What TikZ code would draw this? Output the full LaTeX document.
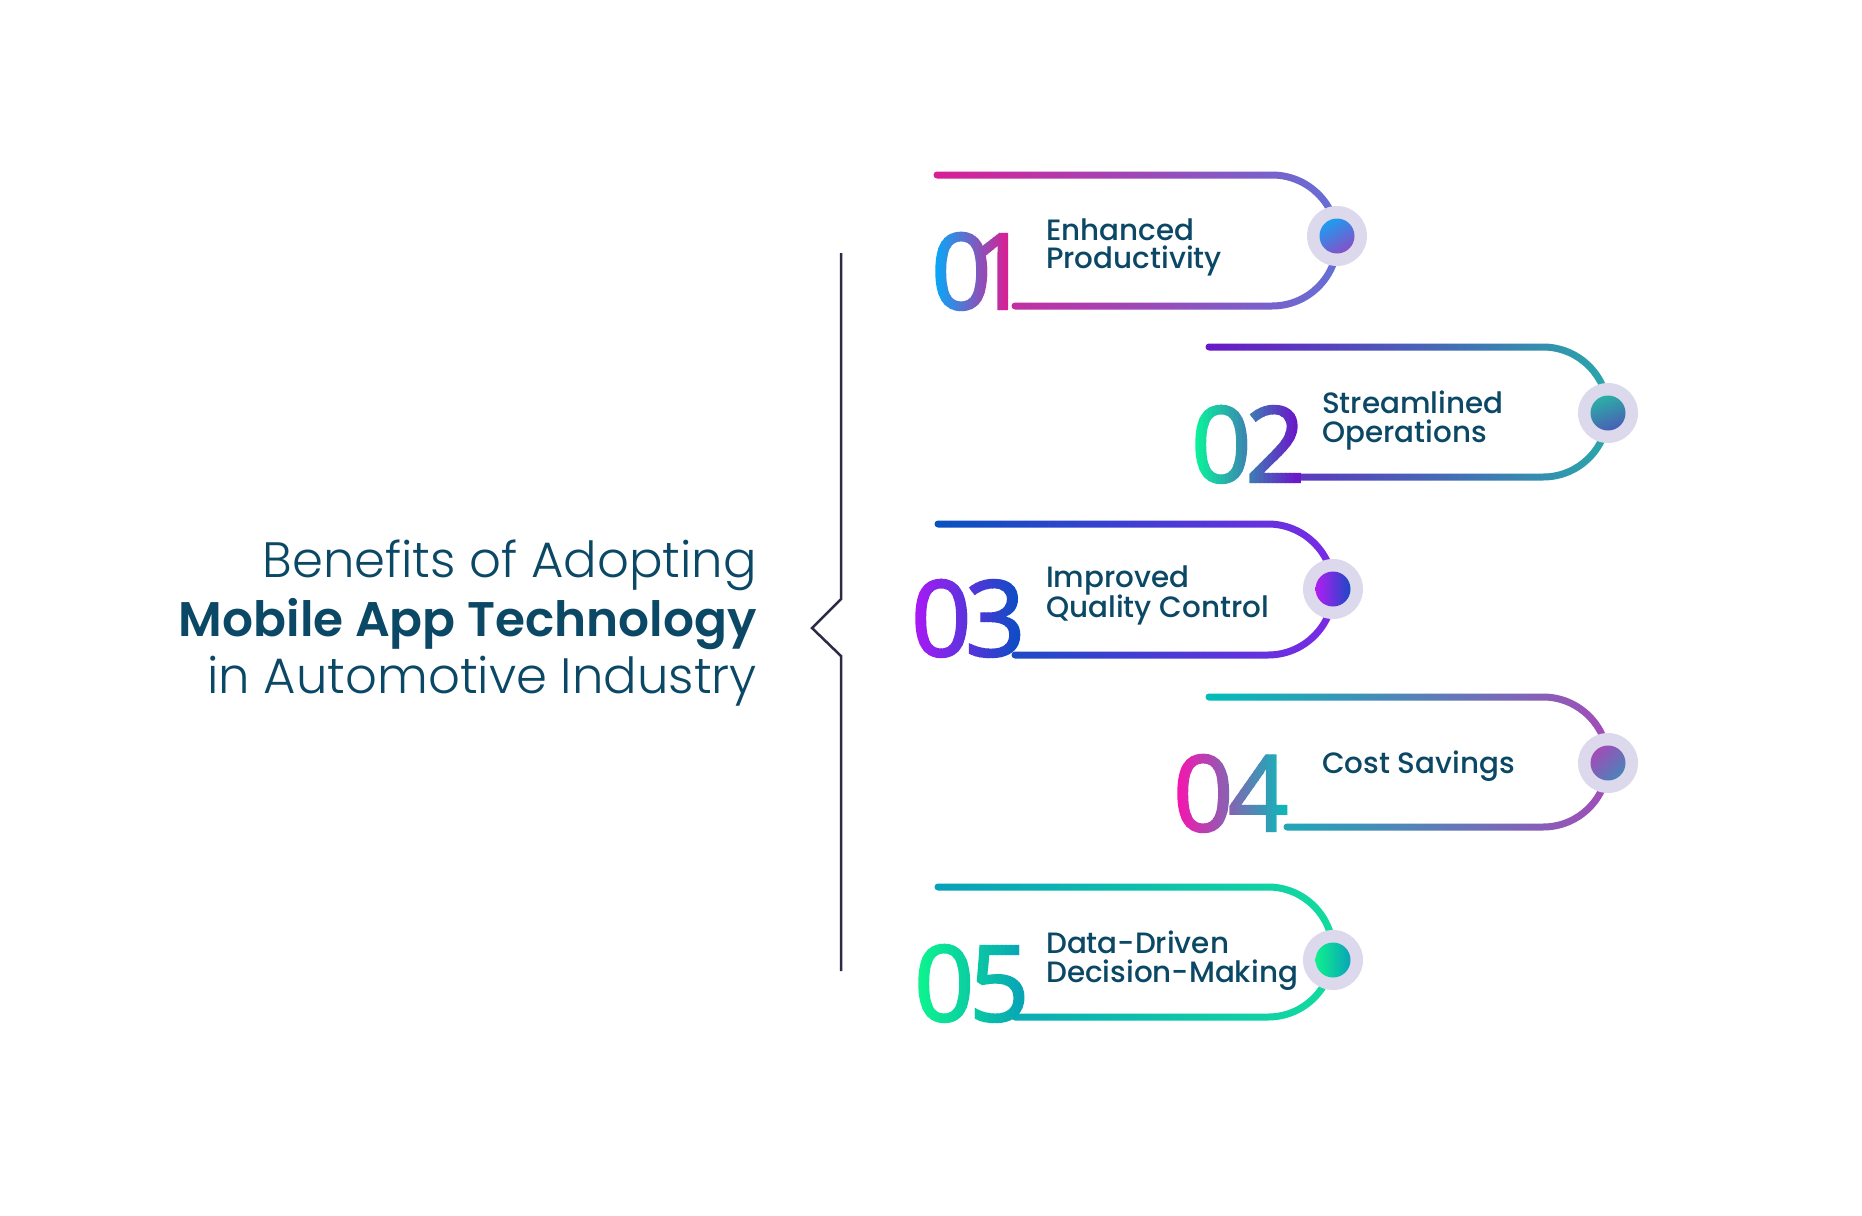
\documentclass[tikz,border=0pt]{standalone}
\usepackage{fontspec}
\setmainfont{Poppins}
\newfontfamily\titlelight{Poppins Light}
\newfontfamily\titlebold{Poppins SemiBold}
\newfontfamily\labelfont{Poppins Medium}
\newfontfamily\numberfont{Open Sans}[FakeBold=2.2]
\definecolor{navy}{HTML}{0B4866}
\definecolor{axis}{HTML}{2B2B45}
\definecolor{ring}{HTML}{DCD9ED}
\tikzset{
  titletext/.style={inner sep=0pt, text=navy, font=\titlelight\fontsize{49.7}{50}\selectfont},
  titlestrong/.style={inner sep=0pt, text=navy, font=\titlebold\fontsize{48.6}{49}\selectfont},
  labeltext/.style={inner sep=0pt, text=navy, font=\labelfont\fontsize{29.4}{30}\selectfont, anchor=base west},
  numtext/.style={inner sep=0pt, font=\numberfont\fontsize{105}{105}\selectfont, anchor=base west},
  axisline/.style={draw=axis, line width=2.5pt},
}
% gradient-filled tag stroke: #1 x1 (top-left), #2 x2 (bottom-left), #3 xc, #4 yt, #5 yb, #6 colA, #7 colB (HTML)
\newcommand\tagstroke[7]{%
  \definecolor{tsA}{HTML}{#6}\definecolor{tsB}{HTML}{#7}%
  \pgfmathsetmacro\tsH{3.5}%
  \pgfmathsetmacro\tsK{0.5523}%
  \pgfmathsetmacro\tsCy{(#4+#5)/2}%
  \pgfmathsetmacro\tsRo{(#5-#4)/2+\tsH}%
  \pgfmathsetmacro\tsRi{(#5-#4)/2-\tsH}%
  \shade[left color=tsA, right color=tsB]
    ({#1},{#4-\tsH}) -- ({#3},{#4-\tsH})
    .. controls ({#3+\tsK*\tsRo},{#4-\tsH}) and ({#3+\tsRo},{\tsCy-\tsK*\tsRo}) .. ({#3+\tsRo},{\tsCy})
    .. controls ({#3+\tsRo},{\tsCy+\tsK*\tsRo}) and ({#3+\tsK*\tsRo},{#5+\tsH}) .. ({#3},{#5+\tsH})
    -- ({#2},{#5+\tsH})
    .. controls ({#2-\tsK*\tsH},{#5+\tsH}) and ({#2-\tsH},{#5+\tsK*\tsH}) .. ({#2-\tsH},{#5})
    .. controls ({#2-\tsH},{#5-\tsK*\tsH}) and ({#2-\tsK*\tsH},{#5-\tsH}) .. ({#2},{#5-\tsH})
    -- ({#3},{#5-\tsH})
    .. controls ({#3+\tsK*\tsRi},{#5-\tsH}) and ({#3+\tsRi},{\tsCy+\tsK*\tsRi}) .. ({#3+\tsRi},{\tsCy})
    .. controls ({#3+\tsRi},{\tsCy-\tsK*\tsRi}) and ({#3+\tsK*\tsRi},{#4+\tsH}) .. ({#3},{#4+\tsH})
    -- ({#1},{#4+\tsH})
    .. controls ({#1-\tsK*\tsH},{#4+\tsH}) and ({#1-\tsH},{#4+\tsK*\tsH}) .. ({#1-\tsH},{#4})
    .. controls ({#1-\tsH},{#4-\tsK*\tsH}) and ({#1-\tsK*\tsH},{#4-\tsH}) .. ({#1},{#4-\tsH})
    -- cycle;
}
% dot: #1 name, #2 x, #3 y, #4 colA, #5 colB (HTML), #6 shading angle
\newcommand\tagdot[6]{%
  \definecolor{tdA}{HTML}{#4}\definecolor{tdB}{HTML}{#5}%
  \fill[ring] (#2,#3) circle[radius=30];
  \shade[top color=tdA, bottom color=tdB, shading angle=#6] (#2,#3) circle[radius=17.5];
  \coordinate (#1) at (#2,#3);
}
% gradient number: #1 name, #2 text, #3 base x, #4 baseline y, #5 ink left, #6 ink right, #7 colA, #8 colB (HTML)
\newcommand\gradnum[8]{%
  \definecolor{gnAc}{HTML}{#7}\definecolor{gnBc}{HTML}{#8}%
  \foreach \i in {0,...,23}{%
    \pgfmathsetmacro\gnA{\i==0 ? #5-40 : #5+(#6-#5)*\i/24}%
    \pgfmathsetmacro\gnB{\i==23 ? #6+40 : #5+(#6-#5)*(\i+1)/24+1}%
    \pgfmathsetmacro\gnP{100-(\i+0.5)*100/24}%
    \colorlet{gntmp}{gnAc!\gnP!gnBc}%
    \begin{scope}
      \clip ({\gnA},{#4-110}) rectangle ({\gnB},{#4+25});
      \node[numtext, text=gntmp] (#1-\i) at (#3,#4) {#2};
    \end{scope}
  }%
}
\begin{document}
\begin{tikzpicture}[x=1pt,y=-1pt]
\useasboundingbox (0,0) rectangle (1862,1215);
\fill[white] (0,0) rectangle (1862,1215);

% title
\node[titletext, anchor=base east] (t1) at (757,577) {Benefits of Adopting};
\node[titlestrong, anchor=base east] (t2) at (757,636) {Mobile App Technology};
\node[titletext, anchor=base east] (t3) at (757,693) {in Automotive Industry};

% axis with chevron
\coordinate (ax1) at (841,253);
\coordinate (ax2) at (841,599);
\coordinate (ax3) at (812,628);
\coordinate (ax4) at (841,656);
\coordinate (ax5) at (841,971);
\draw[axisline] (ax1) -- (ax2) -- (ax3) -- (ax4) -- (ax5);

% strokes
\tagstroke{937}{1015}{1272}{175}{306}{D81F96}{6470D6}
\tagstroke{1209}{1287}{1543}{347}{477}{6A16C6}{2AA8AA}
\tagstroke{938}{1015}{1268}{524}{655}{0752BE}{7B2AE6}
\tagstroke{1209}{1287}{1543}{697}{827}{00BDB8}{A44BB8}
\tagstroke{938}{1015}{1268}{887}{1017}{08A0BA}{12DC9E}

% dots
\tagdot{d1}{1337}{236}{1E9CF0}{8550C8}{30}
\tagdot{d2}{1608}{413}{2BB0A6}{4A5DB5}{20}
\tagdot{d3}{1333}{589}{B31DF2}{1B48C6}{90}
\tagdot{d4}{1608}{763}{A24CB8}{4A84B8}{45}
\tagdot{d5}{1333}{960}{0FF08F}{0AA3B8}{90}

% numbers
\gradnum{n1}{0\kern-21pt 1}{931}{309}{935}{1008}{06A9F8}{DA1E94}
\gradnum{n2}{0\kern-6pt 2}{1191}{482}{1195}{1298}{0AF59A}{6C14CA}
\gradnum{n3}{0\kern-6pt 3}{911}{656}{915}{1018}{A91AF5}{0E4CC4}
\gradnum{n4}{0\kern-5pt 4}{1173}{831}{1177}{1285}{F814AE}{0CB8B8}
\gradnum{n5}{0\kern-5pt 5}{914}{1021}{918}{1023}{0DF58E}{08A4B6}

% labels
\node[labeltext] (l1a) at (1046,240) {Enhanced};
\node[labeltext] (l1b) at (1046,268) {Productivity};
\node[labeltext] (l2a) at (1322,413) {Streamlined};
\node[labeltext] (l2b) at (1322,442) {Operations};
\node[labeltext] (l3a) at (1046,587) {Improved};
\node[labeltext] (l3b) at (1046,617) {Quality Control};
\node[labeltext] (l4a) at (1322,773) {Cost Savings};
\node[labeltext] (l5a) at (1046,953) {Data-Driven};
\node[labeltext] (l5b) at (1046,982) {Decision-Making};
\end{tikzpicture}
\end{document}
